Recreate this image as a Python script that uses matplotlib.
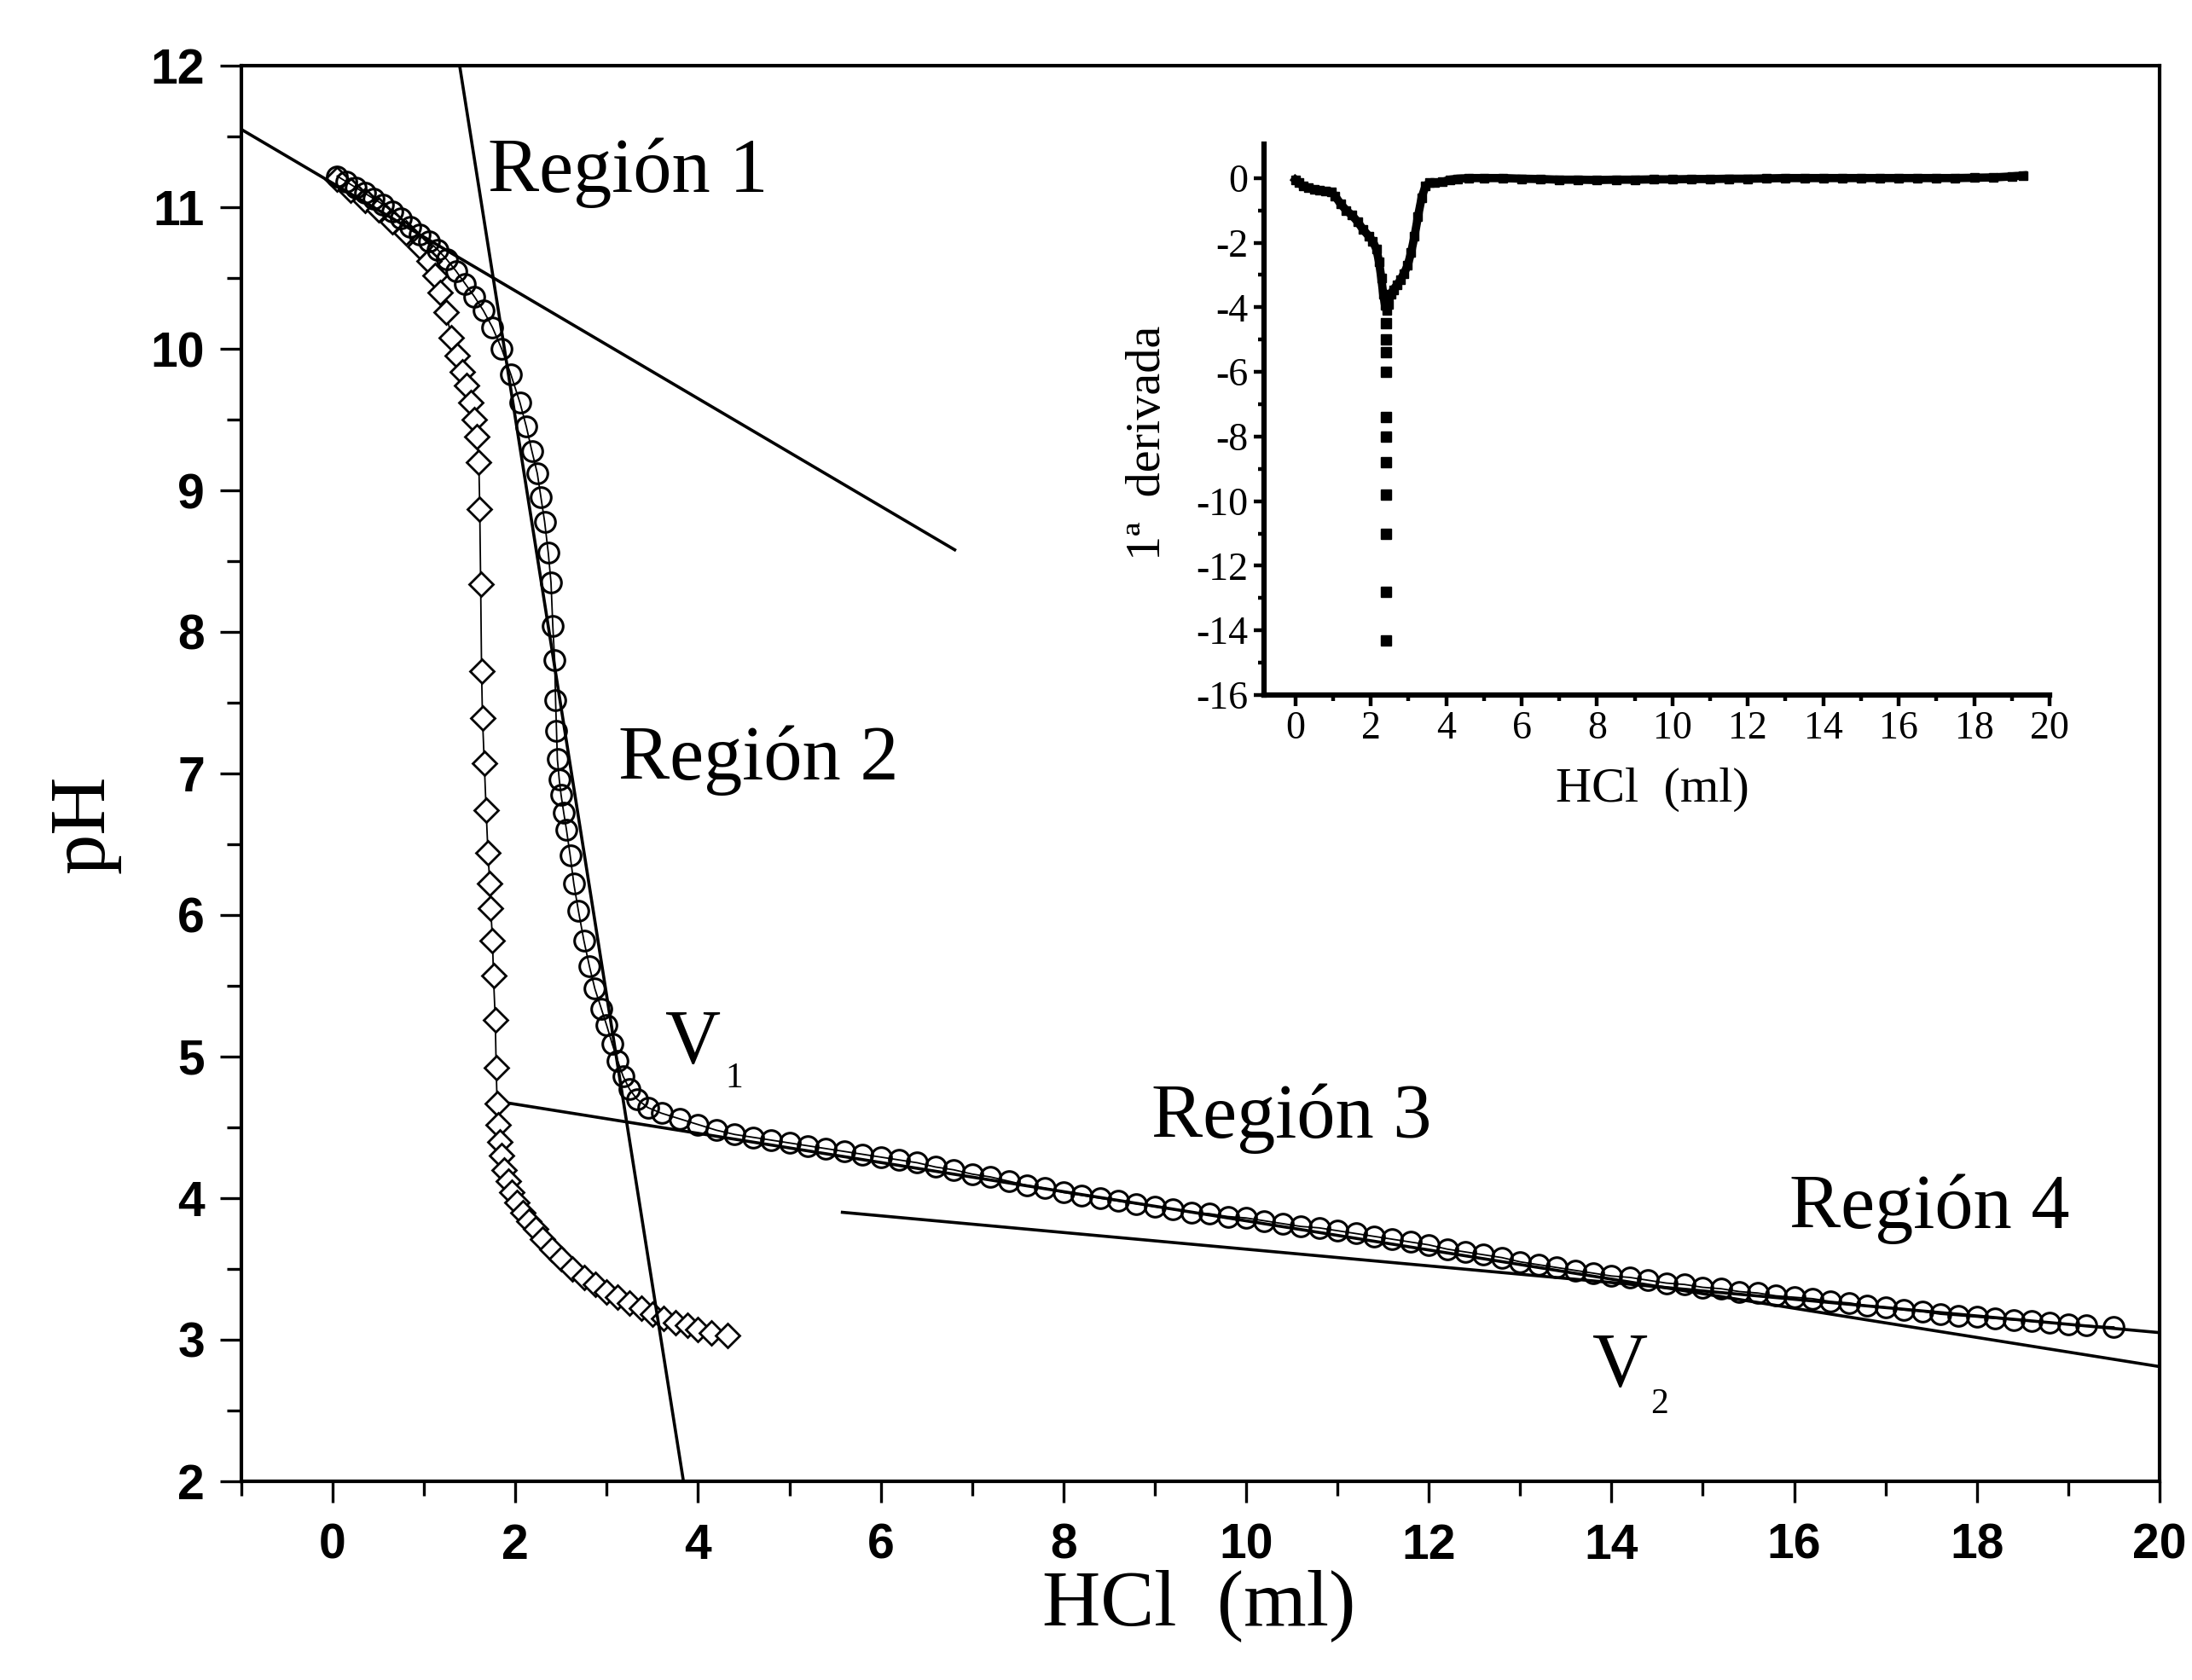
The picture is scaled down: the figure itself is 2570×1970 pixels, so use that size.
import matplotlib
matplotlib.use('Agg')
import matplotlib.pyplot as plt

plt.rcParams['font.family'] = 'Liberation Serif'
plt.rcParams['axes.unicode_minus'] = False

# titration curve, open circles (HCl ml, pH)
circ_x = [0.05, 0.15, 0.25, 0.35, 0.45, 0.55, 0.65, 0.75, 0.85, 0.95,
          1.05, 1.15, 1.25, 1.35, 1.45, 1.55, 1.65, 1.75, 1.85, 1.95,
          2.05, 2.12, 2.18, 2.24, 2.28, 2.32, 2.36, 2.39, 2.41, 2.43,
          2.44, 2.45, 2.46, 2.48, 2.50, 2.53, 2.56, 2.60, 2.64, 2.69,
          2.75, 2.81, 2.87, 2.94, 3.00, 3.06, 3.12, 3.18, 3.25, 3.33,
          3.45, 3.60, 3.80, 4.00, 4.20, 4.40, 4.60, 4.80, 5.00, 5.20,
          5.40, 5.60, 5.80, 6.00, 6.20, 6.40, 6.60, 6.80, 7.00, 7.20,
          7.40, 7.60, 7.80, 8.00, 8.20, 8.40, 8.60, 8.80, 9.00, 9.20,
          9.40, 9.60, 9.80, 10.00, 10.20, 10.40, 10.60, 10.80, 11.00, 11.20,
          11.40, 11.60, 11.80, 12.00, 12.20, 12.40, 12.60, 12.80, 13.00, 13.20,
          13.40, 13.60, 13.80, 14.00, 14.20, 14.40, 14.60, 14.80, 15.00, 15.20,
          15.40, 15.60, 15.80, 16.00, 16.20, 16.40, 16.60, 16.80, 17.00, 17.20,
          17.40, 17.60, 17.80, 18.00, 18.20, 18.40, 18.60, 18.80, 19.00, 19.20,
          19.50]
circ_y = [11.22, 11.18, 11.14, 11.10, 11.06, 11.02, 10.97, 10.92, 10.86, 10.81,
          10.76, 10.70, 10.63, 10.55, 10.46, 10.37, 10.27, 10.15, 10.00, 9.82,
          9.62, 9.45, 9.28, 9.12, 8.95, 8.78, 8.56, 8.35, 8.04, 7.80,
          7.52, 7.30, 7.10, 6.96, 6.85, 6.72, 6.60, 6.42, 6.22, 6.03,
          5.82, 5.64, 5.48, 5.34, 5.22, 5.09, 4.97, 4.86, 4.77, 4.70,
          4.64, 4.60, 4.56, 4.52, 4.48, 4.45, 4.43, 4.41, 4.39, 4.37,
          4.35, 4.33, 4.31, 4.29, 4.27, 4.25, 4.22, 4.20, 4.17, 4.15,
          4.12, 4.09, 4.07, 4.04, 4.02, 4.00, 3.98, 3.96, 3.94, 3.92,
          3.90, 3.89, 3.87, 3.86, 3.84, 3.82, 3.80, 3.79, 3.77, 3.75,
          3.73, 3.71, 3.69, 3.67, 3.64, 3.62, 3.60, 3.58, 3.55, 3.53,
          3.51, 3.49, 3.47, 3.45, 3.44, 3.42, 3.40, 3.39, 3.37, 3.36,
          3.34, 3.33, 3.31, 3.30, 3.29, 3.27, 3.26, 3.24, 3.23, 3.21,
          3.20, 3.18, 3.17, 3.16, 3.15, 3.14, 3.13, 3.12, 3.11, 3.10,
          3.09]

# second titration, open diamonds
diam_x = [0.05, 0.20, 0.35, 0.50, 0.65, 0.80, 0.95, 1.05, 1.12, 1.18,
          1.24, 1.30, 1.36, 1.42, 1.47, 1.51, 1.55, 1.58, 1.60, 1.61,
          1.62, 1.63, 1.64, 1.66, 1.68, 1.70, 1.72, 1.73, 1.75, 1.76,
          1.78, 1.79, 1.80, 1.81, 1.83, 1.85, 1.88, 1.92, 1.96, 2.02,
          2.08, 2.15, 2.22, 2.30, 2.40, 2.50, 2.62, 2.75, 2.88, 3.00,
          3.12, 3.25, 3.38, 3.50, 3.62, 3.75, 3.88, 4.00, 4.15, 4.32]
diam_y = [11.20, 11.12, 11.05, 10.98, 10.90, 10.82, 10.72, 10.62, 10.52, 10.40,
          10.26, 10.08, 9.95, 9.84, 9.74, 9.62, 9.50, 9.38, 9.20, 8.87,
          8.34, 7.72, 7.39, 7.07, 6.74, 6.44, 6.22, 6.05, 5.82, 5.57,
          5.26, 4.92, 4.67, 4.52, 4.40, 4.30, 4.20, 4.12, 4.04, 3.97,
          3.90, 3.84, 3.78, 3.71, 3.64, 3.57, 3.50, 3.44, 3.39, 3.34,
          3.30, 3.26, 3.22, 3.18, 3.15, 3.12, 3.10, 3.07, 3.05, 3.03]

# straight lines of the four regions (end points)
reg1_x, reg1_y = [-1.0, 6.81], [11.55, 8.58]
reg2_x, reg2_y = [1.39, 3.84], [12.0, 2.0]
reg3_x, reg3_y = [1.94, 20.0], [4.67, 2.81]
reg4_x, reg4_y = [5.58, 20.0], [3.90, 3.05]

# inset: first derivative
deriv_x = [0.0, 0.1, 0.2, 0.35, 0.5, 0.65, 0.8, 0.95, 1.05, 1.2,
           1.35, 1.5, 1.65, 1.8, 1.95, 2.05, 2.15, 2.22, 2.28, 2.33,
           2.38, 2.42, 2.47, 2.53, 2.60, 2.70, 2.79, 2.88, 2.98, 3.07,
           3.16, 3.25, 3.35, 3.45, 3.55, 3.7, 3.9, 4.1, 4.3, 4.6,
           5.0, 5.5, 6.0, 6.5, 7.0, 7.5, 8.0, 8.5, 9.0, 9.5,
           10.0, 10.5, 11.0, 11.5, 12.0, 12.5, 13.0, 13.5, 14.0, 14.5,
           15.0, 15.5, 16.0, 16.5, 17.0, 17.5, 18.0, 18.5, 19.0, 19.3]
deriv_y = [-0.05, -0.15, -0.25, -0.30, -0.35, -0.38, -0.40, -0.42, -0.55, -0.80,
           -1.00, -1.15, -1.35, -1.60, -1.80, -1.95, -2.20, -2.60, -3.10, -3.60,
           -3.95, -4.10, -3.90, -3.60, -3.45, -3.30, -3.15, -2.95, -2.70, -2.30,
           -1.80, -1.20, -0.60, -0.25, -0.15, -0.15, -0.12, -0.05, -0.02, 0.0,
           0.0, 0.0, -0.02, -0.03, -0.05, -0.05, -0.06, -0.05, -0.05, -0.04,
           -0.04, -0.03, -0.03, -0.02, -0.02, -0.01, 0.0, 0.0, 0.0, 0.0,
           0.0, 0.0, 0.0, 0.0, 0.0, 0.0, 0.01, 0.02, 0.05, 0.08]
spike_x = [2.40, 2.41, 2.40, 2.41, 2.40, 2.40, 2.40, 2.40, 2.40, 2.40, 2.40]
spike_y = [-4.5, -5.0, -5.4, -6.0, -7.4, -8.0, -8.8, -9.8, -11.0, -12.8, -14.3]

fig = plt.figure(figsize=(25.7, 19.7), dpi=100)

# ---- main plot ----
ax = fig.add_axes([0.1101, 0.1183, 0.8751, 0.8426])
ax.plot(diam_x, diam_y, '-', color='black', lw=1.3, marker='D', ms=14,
        mfc='white', mec='black', mew=2)
ax.plot(circ_x, circ_y, '-', color='black', lw=1.3, marker='o', ms=17,
        mfc='none', mec='black', mew=2.2)
for lx, ly in [(reg1_x, reg1_y), (reg2_x, reg2_y), (reg3_x, reg3_y), (reg4_x, reg4_y)]:
    ax.plot(lx, ly, '-', color='black', lw=2.6)

ax.set_xlim(-1, 20)
ax.set_ylim(2, 12)
ax.set_xticks(range(0, 21, 2))
ax.set_xticks(range(-1, 21, 2), minor=True)
ax.set_yticks(range(2, 13))
ax.set_yticks([v + 0.5 for v in range(2, 12)], minor=True)
ax.tick_params(which='major', direction='out', length=18, width=2.4, pad=13,
               labelsize=41, labelfontfamily='Liberation Sans')
ax.tick_params(axis='x', which='major', pad=17)
ax.tick_params(which='minor', direction='out', length=12, width=2.4)
for lab in ax.get_xticklabels() + ax.get_yticklabels():
    lab.set_fontweight('bold')
for s in ax.spines.values():
    s.set_linewidth(3)

ax.set_xlabel('HCl  (ml)', fontsize=68, va='center')
ax.xaxis.set_label_coords(0.499, -0.088)
ax.set_ylabel('pH', fontsize=68, va='center')
ax.yaxis.set_label_coords(-0.082, 0.464)

txt = dict(fontsize=65, ha='left', va='baseline')
ax.text(1.70, 11.11, 'Región 1', **txt)
ax.text(3.13, 6.96, 'Región 2', **txt)
ax.text(8.96, 4.43, 'Región 3', **txt)
ax.text(15.95, 3.79, 'Región 4', **txt)
ax.text(3.64, 4.95, 'V', **txt)
ax.text(4.30, 4.78, '1', fontsize=30, ha='left', va='baseline')
ax.text(13.79, 2.67, 'V', **txt)
ax.text(14.43, 2.48, '2', fontsize=30, ha='left', va='baseline')

# ---- inset: 1st derivative ----
ins = fig.add_axes([0.5765, 0.5863, 0.3585, 0.3279])
ins.plot(deriv_x, deriv_y, '-', color='black', lw=7, marker='s', ms=7)
ins.plot(spike_x, spike_y, 's', color='black', ms=8)
ins.set_xlim(-0.84, 20)
ins.set_ylim(-16, 1.05)
ins.set_xticks(range(0, 21, 2))
ins.set_xticks(range(1, 20, 2), minor=True)
ins.set_yticks(range(-16, 1, 2))
ins.set_yticks(range(-15, 0, 2), minor=True)
ins.spines['top'].set_visible(False)
ins.spines['right'].set_visible(False)
for s in ['left', 'bottom']:
    ins.spines[s].set_linewidth(4.5)
ins.tick_params(which='major', direction='out', length=9, width=3.2, pad=4, labelsize=33)
ins.tick_params(which='minor', direction='out', length=5, width=3.2)
ins.set_xlabel('HCl  (ml)', fontsize=42, va='center')
ins.xaxis.set_label_coords(0.495, -0.172)
ins.set_ylabel('1ª  derivada', fontsize=42, va='center')
ins.yaxis.set_label_coords(-0.147, 0.458)

fig.savefig('out.png', dpi=100)
